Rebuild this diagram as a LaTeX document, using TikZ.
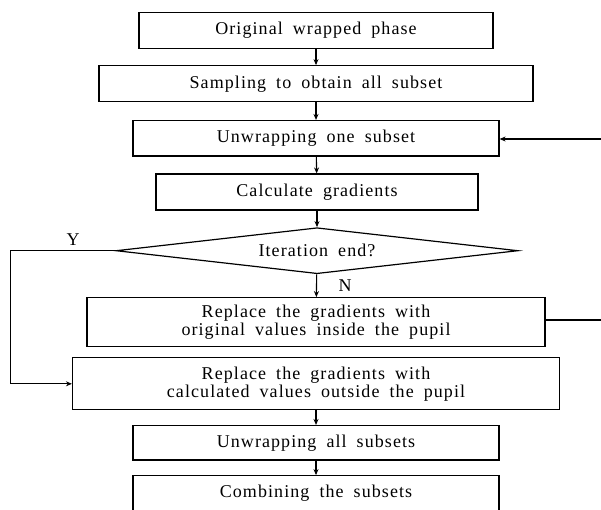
\documentclass[tikz,border=0pt]{standalone}
\usepackage{fontspec}
\setmainfont[LetterSpace=6,WordSpace=1.8]{Liberation Serif}
\usetikzlibrary{arrows.meta,shapes.geometric}
\begin{document}
\begin{tikzpicture}[x=1pt,y=-1pt,
  box/.style={draw, line width=1.2pt, rectangle, inner sep=0pt, align=center,
    font=\fontsize{18}{18}\selectfont},
  dec/.style={draw, line width=1.2pt, diamond, aspect=8.7, inner sep=0pt,
    minimum width=402pt, minimum height=46pt, font=\fontsize{18}{18}\selectfont},
  lbl/.style={font=\fontsize{18}{18}\selectfont, inner sep=0pt},
  conn/.style={line width=1.1pt, -{Stealth[length=6pt,width=5pt]}},
  plain/.style={line width=1.1pt}]
\clip (0,0) rectangle (601,509);
\useasboundingbox (0,0) rectangle (601,509);
\node[box, minimum width=354pt, minimum height=36pt] (b1) at (316,30.3) {Original wrapped phase};
\node[box, minimum width=434pt, minimum height=36pt] (b2) at (316,83.7) {Sampling to obtain all subset};
\node[box, minimum width=366pt, minimum height=35.5pt] (b3) at (316,138.3) {Unwrapping one subset};
\node[box, minimum width=322pt, minimum height=36pt] (b4) at (317,192) {Calculate gradients};
\node[dec] (d) at (317,250.7) {Iteration end?};
\node[box, minimum width=458pt, minimum height=49pt] (b5) at (316,322.2) {Replace the gradients with\\original values inside the pupil};
\node[box, minimum width=487pt, minimum height=52pt] (b6) at (316,383.8) {Replace the gradients with\\calculated values outside the pupil};
\node[box, minimum width=366pt, minimum height=34.5pt] (b7) at (316,442.8) {Unwrapping all subsets};
\node[box, minimum width=366pt, minimum height=35pt] (b8) at (316,493.2) {Combining the subsets};
\node[lbl] (y) at (73,240) {Y};
\node[lbl] (n) at (345,286) {N};
\coordinate (rin) at (601,139);
\coordinate (rout) at (601,320);
\coordinate (lc) at (10.7,250.7);
\draw[conn] (b1) -- (b2);
\draw[conn] (b2) -- (b3);
\draw[conn] (b3) -- (b4);
\draw[conn] (b4) -- (d);
\draw[conn] (d) -- (b5);
\draw[conn] (b6) -- (b7);
\draw[conn] (b7) -- (b8);
\draw[conn] (rin) -- (b3.east |- rin);
\draw[plain] (b5.east |- rout) -- (rout);
\draw[conn] (d.west) -- (lc) |- (b6.west);
\end{tikzpicture}
\end{document}
